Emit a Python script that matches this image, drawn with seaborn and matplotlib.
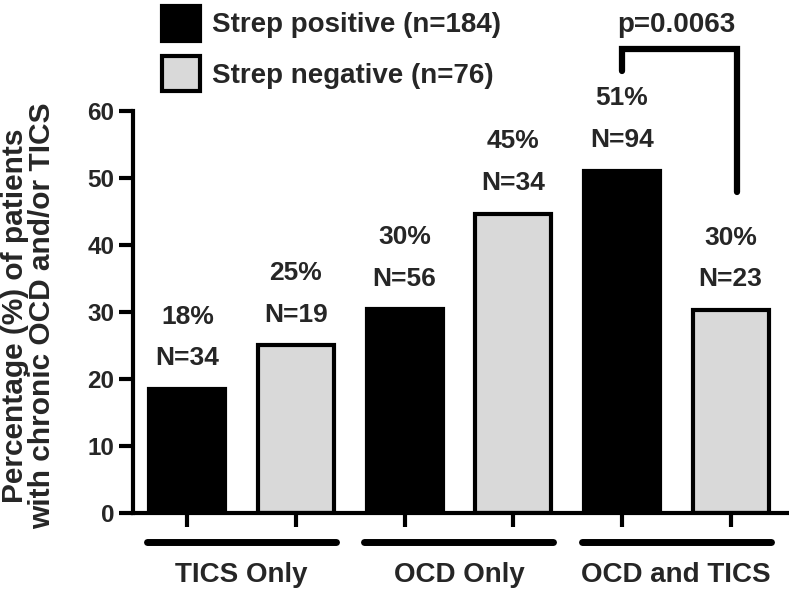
import matplotlib
matplotlib.use('Agg')
import matplotlib.pyplot as plt
import pandas as pd
import seaborn as sns
from matplotlib.patches import Patch

# Data
bar_names = ['TICS pos', 'TICS neg', 'OCD pos', 'OCD neg', 'Both pos', 'Both neg']
strep = ['Strep positive (n=184)', 'Strep negative (n=76)'] * 3
pct = [18.5, 25.0, 30.4, 44.7, 51.1, 30.3]
pct_labels = ['18%', '25%', '30%', '45%', '51%', '30%']
n_labels = ['N=34', 'N=19', 'N=56', 'N=34', 'N=94', 'N=23']
groups = ['TICS Only', 'OCD Only', 'OCD and TICS']
p_text = 'p=0.0063'

df = pd.DataFrame({'bar': bar_names, 'strep': strep, 'pct': pct})

sns.set_style('ticks')
plt.rcParams['font.family'] = ['Liberation Sans', 'DejaVu Sans']
plt.rcParams['font.weight'] = 'bold'

fig = plt.figure(figsize=(7.89, 5.94), dpi=100)
ax = fig.add_axes([0.1686, 0.1364, 0.8289, 0.6767])

colors = {'Strep positive (n=184)': '#000000', 'Strep negative (n=76)': '#d9d9d9'}
sns.barplot(data=df, x='bar', y='pct', hue='strep', palette=colors, dodge=False,
            width=0.7, edgecolor='black', linewidth=3, ax=ax, legend=False)

ax.set_xlim(-0.5, 5.52)
ax.set_ylim(0, 60)
ax.set_yticks(range(0, 61, 10))
ax.set_xticks(range(6))
ax.set_xticklabels([])
ax.set_xlabel('')
ax.set_ylabel('Percentage (%) of patients\nwith chronic OCD and/or TICS',
              fontsize=21.5, fontweight='bold', linespacing=0.95)
ax.yaxis.set_label_coords(-0.118, 0.49)
ax.tick_params(axis='both', width=3, length=10, direction='out', labelsize=17.5, color='black')
for lbl in ax.get_yticklabels():
    lbl.set_fontweight('bold')
sns.despine(ax=ax)
for s in ['left', 'bottom']:
    ax.spines[s].set_linewidth(3)
    ax.spines[s].set_color('black')

# labels above bars
for i, v in enumerate(pct):
    ax.text(i, v + 4.6, n_labels[i], ha='center', va='center', fontsize=19, fontweight='bold')
    ax.text(i, v + 10.8, pct_labels[i], ha='center', va='center', fontsize=19, fontweight='bold')

# group underlines and names
for g, name in enumerate(groups):
    x0, x1 = 2 * g - 0.37, 2 * g + 1.37
    ax.plot([x0, x1], [-4.3, -4.3], color='black', lw=5, solid_capstyle='round', clip_on=False)
    ax.text(2 * g + 0.5, -9.3, name, ha='center', va='center', fontsize=20, fontweight='bold')

# significance bracket
ax.plot([4.0, 4.0, 5.06, 5.06], [66.0, 69.3, 69.3, 47.9], color='black', lw=4.5,
        solid_joinstyle='miter', clip_on=False)
ax.text(4.5, 72.9, p_text, ha='center', va='center', fontsize=20, fontweight='bold')

handles = [Patch(facecolor=colors[c], edgecolor='black', linewidth=3) for c in colors]
leg = fig.legend(handles, list(colors), loc='upper left', bbox_to_anchor=(0.2055, 0.99),
                 frameon=False, fontsize=20, handlelength=1.35, handleheight=1.55,
                 handletextpad=0.45, labelspacing=0.55, borderpad=0, borderaxespad=0)
for t in leg.get_texts():
    t.set_fontweight('bold')

fig.savefig('out.png', dpi=100)
